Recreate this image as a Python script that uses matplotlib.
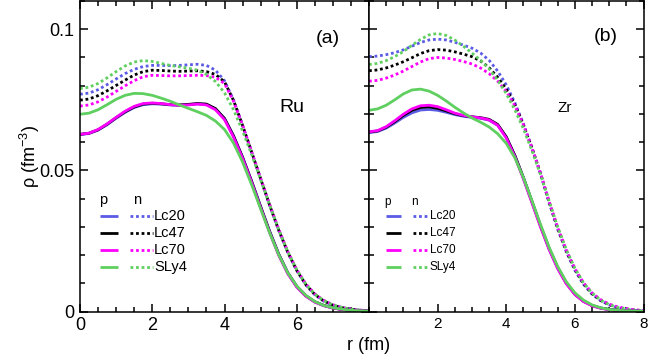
import numpy as np
import matplotlib
matplotlib.use("Agg")
import matplotlib.pyplot as plt
from matplotlib.ticker import MultipleLocator

plt.rcParams['font.family'] = ['Liberation Sans', 'DejaVu Sans']
plt.rcParams['mathtext.default'] = 'regular'

r = np.arange(0, 8.001, 0.25)
models = ["Lc20", "Lc47", "Lc70", "SLy4"]
colors = ["#5b5be6", "#000000", "#ff00ff", "#5fcf5f"]

# Ru (panel a)
ru_p = {
    "Lc20": [0.0627, 0.0631, 0.0643, 0.0662, 0.0685, 0.0706, 0.0723, 0.0733, 0.0736, 0.0735, 0.0732, 0.0731, 0.0733, 0.0736, 0.0734, 0.0718, 0.0684, 0.0623, 0.0548, 0.0463, 0.0373, 0.0285, 0.0205, 0.0139, 0.0090, 0.0057, 0.0035, 0.0022, 0.0014, 0.0008, 0.0005, 0.0003, 0.0002],
    "Lc47": [0.0628, 0.0632, 0.0644, 0.0664, 0.0687, 0.0708, 0.0725, 0.0735, 0.0738, 0.0736, 0.0733, 0.0732, 0.0734, 0.0737, 0.0735, 0.0719, 0.0684, 0.0622, 0.0546, 0.0461, 0.0371, 0.0283, 0.0203, 0.0137, 0.0089, 0.0056, 0.0035, 0.0022, 0.0013, 0.0008, 0.0005, 0.0003, 0.0002],
    "Lc70": [0.0628, 0.0632, 0.0645, 0.0665, 0.0688, 0.0710, 0.0727, 0.0737, 0.0739, 0.0737, 0.0733, 0.0731, 0.0732, 0.0735, 0.0732, 0.0715, 0.0680, 0.0618, 0.0543, 0.0458, 0.0368, 0.0280, 0.0200, 0.0135, 0.0087, 0.0055, 0.0034, 0.0021, 0.0013, 0.0008, 0.0005, 0.0003, 0.0002],
    "SLy4": [0.0699, 0.0703, 0.0715, 0.0733, 0.0752, 0.0766, 0.0773, 0.0772, 0.0766, 0.0756, 0.0745, 0.0732, 0.0720, 0.0708, 0.0695, 0.0675, 0.0645, 0.0597, 0.0530, 0.0450, 0.0364, 0.0279, 0.0202, 0.0138, 0.0091, 0.0058, 0.0036, 0.0022, 0.0014, 0.0009, 0.0005, 0.0003, 0.0002],
}
ru_n = {
    "Lc20": [0.0770, 0.0774, 0.0786, 0.0804, 0.0824, 0.0843, 0.0858, 0.0868, 0.0872, 0.0872, 0.0871, 0.0872, 0.0874, 0.0876, 0.0872, 0.0855, 0.0818, 0.0750, 0.0660, 0.0565, 0.0470, 0.0376, 0.0288, 0.0210, 0.0145, 0.0095, 0.0060, 0.0037, 0.0023, 0.0014, 0.0009, 0.0005, 0.0003],
    "Lc47": [0.0749, 0.0753, 0.0765, 0.0782, 0.0801, 0.0820, 0.0838, 0.0850, 0.0855, 0.0854, 0.0852, 0.0851, 0.0852, 0.0853, 0.0850, 0.0840, 0.0814, 0.0748, 0.0660, 0.0566, 0.0471, 0.0377, 0.0289, 0.0211, 0.0146, 0.0096, 0.0061, 0.0038, 0.0023, 0.0014, 0.0009, 0.0005, 0.0003],
    "Lc70": [0.0728, 0.0732, 0.0743, 0.0760, 0.0780, 0.0800, 0.0818, 0.0832, 0.0837, 0.0836, 0.0835, 0.0835, 0.0836, 0.0837, 0.0836, 0.0830, 0.0808, 0.0745, 0.0660, 0.0567, 0.0473, 0.0380, 0.0292, 0.0214, 0.0149, 0.0099, 0.0063, 0.0040, 0.0025, 0.0015, 0.0009, 0.0006, 0.0003],
    "SLy4": [0.0790, 0.0795, 0.0808, 0.0828, 0.0850, 0.0870, 0.0884, 0.0889, 0.0886, 0.0879, 0.0872, 0.0867, 0.0862, 0.0855, 0.0840, 0.0815, 0.0775, 0.0715, 0.0640, 0.0557, 0.0468, 0.0378, 0.0291, 0.0213, 0.0148, 0.0098, 0.0062, 0.0039, 0.0024, 0.0015, 0.0009, 0.0005, 0.0003],
}
# Zr (panel b)
zr_p = {
    "Lc20": [0.0634, 0.0638, 0.0650, 0.0668, 0.0688, 0.0704, 0.0714, 0.0716, 0.0713, 0.0706, 0.0698, 0.0692, 0.0688, 0.0685, 0.0678, 0.0660, 0.0618, 0.0553, 0.0475, 0.0390, 0.0304, 0.0224, 0.0156, 0.0102, 0.0063, 0.0038, 0.0022, 0.0013, 0.0008, 0.0005, 0.0003, 0.0002, 0.0001],
    "Lc47": [0.0636, 0.0640, 0.0653, 0.0673, 0.0695, 0.0713, 0.0723, 0.0725, 0.0720, 0.0711, 0.0701, 0.0694, 0.0690, 0.0687, 0.0681, 0.0663, 0.0619, 0.0553, 0.0474, 0.0389, 0.0303, 0.0223, 0.0155, 0.0101, 0.0062, 0.0037, 0.0022, 0.0013, 0.0008, 0.0005, 0.0003, 0.0002, 0.0001],
    "Lc70": [0.0637, 0.0641, 0.0655, 0.0676, 0.0699, 0.0718, 0.0729, 0.0731, 0.0726, 0.0715, 0.0703, 0.0695, 0.0690, 0.0686, 0.0679, 0.0660, 0.0615, 0.0549, 0.0470, 0.0385, 0.0299, 0.0220, 0.0152, 0.0099, 0.0061, 0.0036, 0.0021, 0.0012, 0.0007, 0.0004, 0.0003, 0.0002, 0.0001],
    "SLy4": [0.0713, 0.0718, 0.0731, 0.0750, 0.0771, 0.0785, 0.0788, 0.0781, 0.0766, 0.0746, 0.0724, 0.0704, 0.0686, 0.0671, 0.0654, 0.0630, 0.0596, 0.0545, 0.0475, 0.0393, 0.0308, 0.0228, 0.0160, 0.0106, 0.0067, 0.0041, 0.0024, 0.0014, 0.0008, 0.0005, 0.0003, 0.0002, 0.0001],
}
zr_n = {
    "Lc20": [0.0903, 0.0905, 0.0910, 0.0917, 0.0927, 0.0940, 0.0953, 0.0962, 0.0965, 0.0962, 0.0954, 0.0944, 0.0933, 0.0916, 0.0890, 0.0852, 0.0803, 0.0740, 0.0665, 0.0580, 0.0488, 0.0385, 0.0292, 0.0212, 0.0147, 0.0097, 0.0062, 0.0039, 0.0024, 0.0014, 0.0009, 0.0005, 0.0003],
    "Lc47": [0.0853, 0.0856, 0.0863, 0.0873, 0.0885, 0.0899, 0.0914, 0.0924, 0.0928, 0.0926, 0.0920, 0.0912, 0.0903, 0.0888, 0.0864, 0.0830, 0.0788, 0.0733, 0.0662, 0.0579, 0.0489, 0.0388, 0.0295, 0.0215, 0.0150, 0.0100, 0.0064, 0.0040, 0.0025, 0.0015, 0.0009, 0.0006, 0.0003],
    "Lc70": [0.0816, 0.0819, 0.0827, 0.0838, 0.0852, 0.0868, 0.0884, 0.0896, 0.0900, 0.0898, 0.0893, 0.0886, 0.0877, 0.0863, 0.0843, 0.0816, 0.0780, 0.0730, 0.0662, 0.0580, 0.0490, 0.0390, 0.0298, 0.0218, 0.0153, 0.0103, 0.0067, 0.0043, 0.0027, 0.0017, 0.0011, 0.0007, 0.0004],
    "SLy4": [0.0875, 0.0879, 0.0889, 0.0903, 0.0921, 0.0943, 0.0964, 0.0980, 0.0985, 0.0978, 0.0962, 0.0940, 0.0916, 0.0890, 0.0860, 0.0820, 0.0772, 0.0715, 0.0648, 0.0570, 0.0485, 0.0392, 0.0300, 0.0220, 0.0154, 0.0103, 0.0066, 0.0041, 0.0025, 0.0015, 0.0009, 0.0005, 0.0003],
}

LW = 2.0
DOT = (0, (1, 1))

fig = plt.figure(figsize=(6.58, 3.6), dpi=100)
axA = fig.add_axes([80/658, 48.3/360, 289/658, 310.7/360])
axB = fig.add_axes([369/658, 48.3/360, 274.5/658, 310.7/360])

def draw(ax, pdat, ndat):
    for m, c in zip(models, colors):
        ax.plot(r, ndat[m], color=c, lw=LW, linestyle=DOT, dash_capstyle='butt')
    for m, c in zip(models, colors):
        ax.plot(r, pdat[m], color=c, lw=LW, solid_capstyle='butt')
    ax.set_xlim(0, 8)
    ax.set_ylim(0, 0.11)
    ax.xaxis.set_major_locator(MultipleLocator(2))
    ax.xaxis.set_minor_locator(MultipleLocator(0.5))
    ax.yaxis.set_major_locator(MultipleLocator(0.05))
    ax.yaxis.set_minor_locator(MultipleLocator(0.01))
    ax.tick_params(which='both', direction='in', top=True, right=True, width=1.1, color='black')
    ax.tick_params(which='major', length=6)
    ax.tick_params(which='minor', length=3.5)
    for s in ax.spines.values():
        s.set_linewidth(1.1)

draw(axA, ru_p, ru_n)
draw(axB, zr_p, zr_n)

axA.set_xticks([0, 2, 4, 6])
axA.set_xticklabels(["0", "2", "4", "6"])
axA.set_yticks([0, 0.05, 0.1])
axA.set_yticklabels(["0", "0.05", "0.1"])
axA.tick_params(labelsize=13, pad=4)
axA.set_ylabel(r"ρ (fm$^{-3}$)", fontsize=13)
axA.yaxis.set_label_coords(-0.13, 0.5)

axB.set_xticks([2, 4, 6, 8])
axB.set_xticklabels(["2", "4", "6", "8"])
axB.tick_params(labelsize=11, pad=4, labelleft=False)

fig.text(369/658, 1 - 345/360, "r (fm)", fontsize=13, ha='center', va='center')

axA.text(0.856, 0.878, "(a)", transform=axA.transAxes, fontsize=14, ha='center', va='center')
axA.text(0.7325, 0.658, "Ru", transform=axA.transAxes, fontsize=14, ha='center', va='center')
axB.text(0.863, 0.885, "(b)", transform=axB.transAxes, fontsize=14, ha='center', va='center')
axB.text(0.714, 0.655, "Zr", transform=axB.transAxes, fontsize=11, ha='center', va='center')

def legend(ax, px, nx, sx, dx, tx, ys, yh, fs):
    ax.text(px, yh, "p", transform=ax.transAxes, fontsize=fs, ha='center', va='center')
    ax.text(nx, yh, "n", transform=ax.transAxes, fontsize=fs, ha='center', va='center')
    for m, c, y in zip(models, colors, ys):
        ax.plot(sx, [y, y], transform=ax.transAxes, color=c, lw=LW, solid_capstyle='butt')
        ax.plot(dx, [y, y], transform=ax.transAxes, color=c, lw=LW, linestyle=DOT, dash_capstyle='butt')
        ax.text(tx, y, m, transform=ax.transAxes, fontsize=fs, ha='left', va='center')

ys = [0.308, 0.253, 0.1986, 0.144]
legend(axA, 0.0796, 0.196, [0.069, 0.131], [0.173, 0.253], 0.256, ys, 0.3595, 10.5)
legend(axB, 0.067, 0.166, [0.062, 0.1155], [0.159, 0.216], 0.222, ys, 0.353, 8.5)

fig.savefig("out.png", dpi=100)
